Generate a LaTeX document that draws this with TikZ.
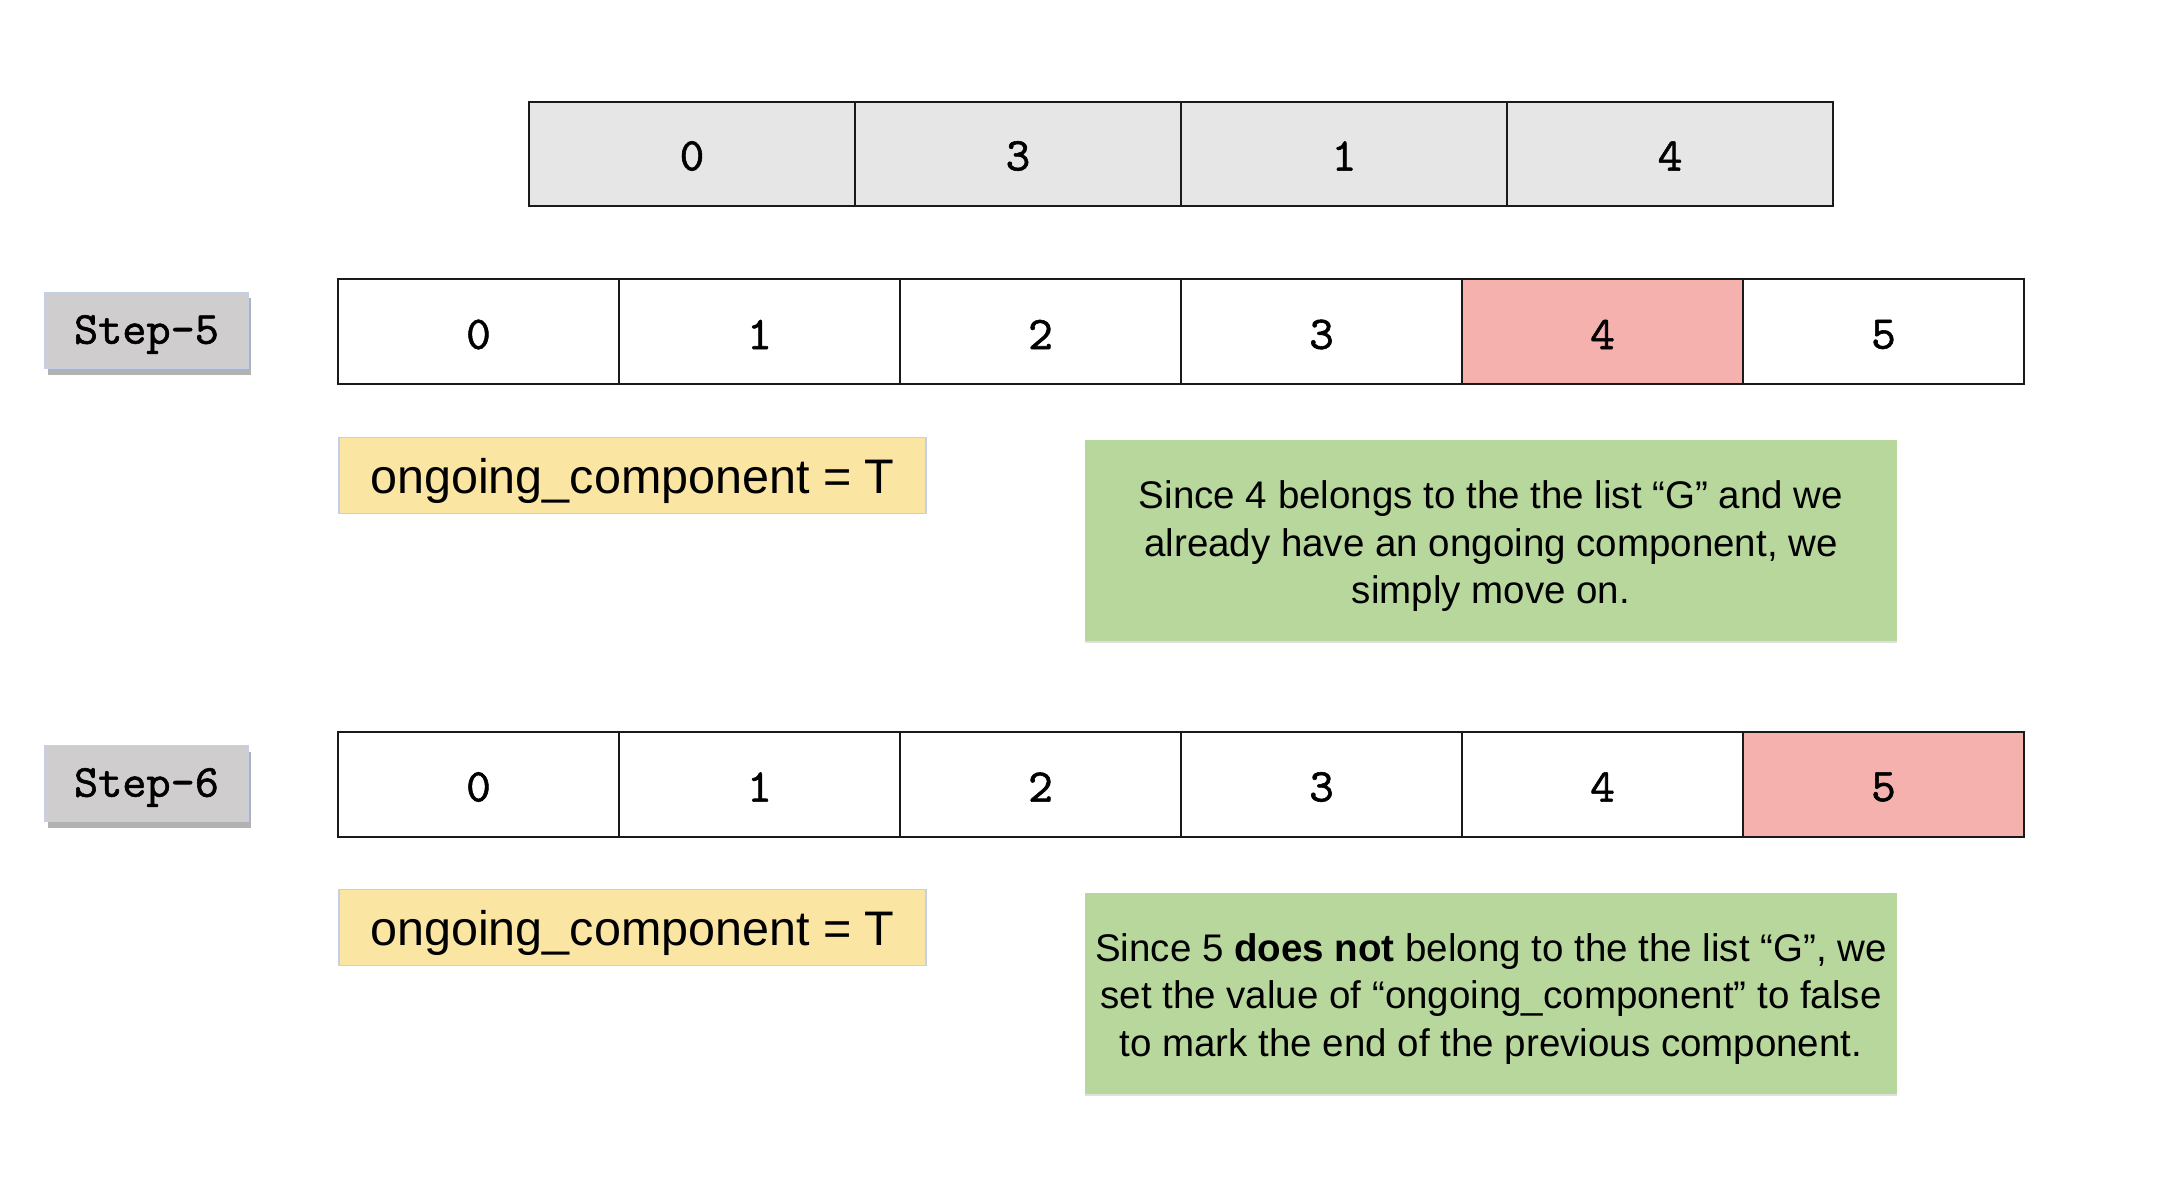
\documentclass[tikz,border=0pt]{standalone}
\usepackage{fontspec}
\setmainfont{Liberation Sans}
\newfontfamily\tw{lmmono10-regular.otf}[FakeBold=1.2]
\usetikzlibrary{shadows}
\definecolor{lblgray}{HTML}{CFCDCE}
\definecolor{topgray}{HTML}{E6E6E6}
\definecolor{hlpink}{HTML}{F4B1AD}
\definecolor{noteyellow}{HTML}{FAE5A3}
\definecolor{notegreen}{HTML}{B8D79C}
\definecolor{edgeblue}{HTML}{C3D0EA}
\definecolor{lineblack}{HTML}{1A1A1A}
\newcommand\dn[2]{\raisebox{-#1pt}[\height][\depth]{#2}}
\newcommand\greentext[1]{\raisebox{-6pt}[\height][\depth]{\begin{tabular}{@{}c@{}}#1\end{tabular}}}
\tikzset{
  cell/.style={draw=lineblack, line width=2pt, minimum width=281pt, minimum height=105pt,
    inner sep=0pt, font=\tw\fontsize{47}{47}\selectfont},
  topcell/.style={cell, fill=topgray, minimum width=326pt, minimum height=104pt},
  hl/.style={fill=hlpink},
  steplabel/.style={fill=lblgray, draw=edgeblue, line width=1.5pt, minimum width=203pt,
    minimum height=76pt, inner sep=0pt, font=\tw\fontsize{46}{46}\selectfont,
    drop shadow={shadow xshift=3pt, shadow yshift=-6pt, opacity=0.3, fill=black}},
  yellownote/.style={fill=noteyellow, draw=edgeblue, line width=1.2pt, minimum width=587pt,
    minimum height=76pt, inner sep=0pt, font=\fontsize{48.5}{48.5}\selectfont},
  greennote/.style={fill=notegreen, minimum width=812pt, minimum height=201pt, inner sep=0pt,
    align=center, font=\fontsize{38.5}{47.5}\selectfont,
    drop shadow={shadow xshift=0pt, shadow yshift=-2pt, opacity=0.12, fill=black}}
}
\begin{document}
\begin{tikzpicture}[x=1pt,y=-1pt]
\useasboundingbox (0,0) rectangle (2168,1198);
% top row
\node[topcell] (t0) at (692,154) {\dn{2}{0}};
\node[topcell] (t1) at (1018,154) {\dn{2}{3}};
\node[topcell] (t2) at (1344,154) {\dn{2}{1}};
\node[topcell] (t3) at (1670,154) {\dn{2}{4}};
% step 5
\node[steplabel] (s5) at (146.5,330.5) {\dn{4}{Step-5}};
\node[cell] (a0) at (478.5,331.5) {\dn{3}{0}};
\node[cell] (a1) at (759.5,331.5) {\dn{3}{1}};
\node[cell] (a2) at (1040.5,331.5) {\dn{3}{2}};
\node[cell] (a3) at (1321.5,331.5) {\dn{3}{3}};
\node[cell,hl] (a4) at (1602.5,331.5) {\dn{3}{4}};
\node[cell] (a5) at (1883.5,331.5) {\dn{3}{5}};
\node[yellownote] (y5) at (632.5,475.5) {\dn{5}{ongoing\_component = T}};
\node[greennote] (g5) at (1491,540.5) {\greentext{Since 4 belongs to the the list “G” and we\\already have an ongoing component, we\\simply move on.}};
% step 6
\node[steplabel] (s6) at (146.5,783.5) {\dn{4}{Step-6}};
\node[cell] (b0) at (478.5,784) {\dn{3}{0}};
\node[cell] (b1) at (759.5,784) {\dn{3}{1}};
\node[cell] (b2) at (1040.5,784) {\dn{3}{2}};
\node[cell] (b3) at (1321.5,784) {\dn{3}{3}};
\node[cell] (b4) at (1602.5,784) {\dn{3}{4}};
\node[cell,hl] (b5) at (1883.5,784) {\dn{3}{5}};
\node[yellownote] (y6) at (632.5,927.5) {\dn{5}{ongoing\_component = T}};
\node[greennote] (g6) at (1491,993) {\greentext{Since 5 \textbf{does not} belong to the the list “G”, we\\set the value of “ongoing\_component” to false\\to mark the end of the previous component.}};
\end{tikzpicture}
\end{document}
